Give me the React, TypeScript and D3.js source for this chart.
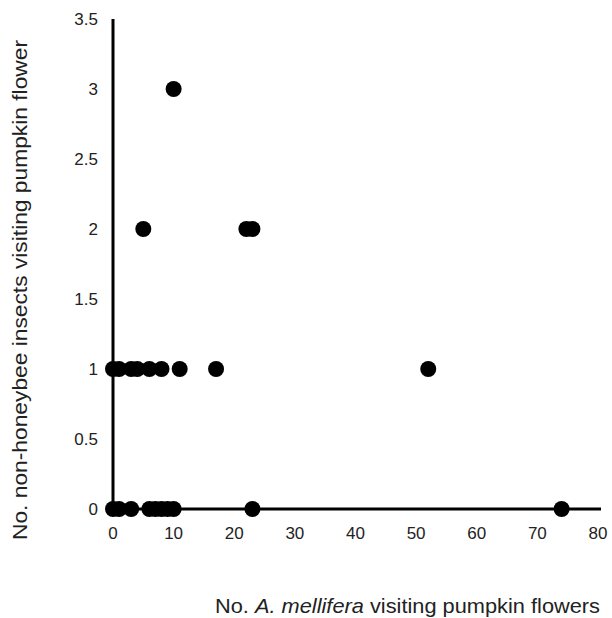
import * as d3 from 'd3'

// A. mellifera count (x) vs non-honeybee insects (y)
const beeCounts = [0, 1, 3, 6, 7, 8, 9, 10, 23, 74, 0, 1, 3, 4, 6, 8, 11, 17, 52, 5, 22, 23, 10]
const otherCounts = [0, 0, 0, 0, 0, 0, 0, 0, 0, 0, 1, 1, 1, 1, 1, 1, 1, 1, 1, 2, 2, 2, 3]

const xTicks = [0, 10, 20, 30, 40, 50, 60, 70, 80]
const yTicks = [0, 0.5, 1, 1.5, 2, 2.5, 3, 3.5]

const yTitle = 'No. non-honeybee insects visiting pumpkin flower'

export default function App() {
  const width = 612
  const height = 618
  const x = d3.scaleLinear().domain([0, 80]).range([113, 598])
  const y = d3.scaleLinear().domain([0, 3.5]).range([509, 19])
  const points = beeCounts.map((b, i) => ({ b, o: otherCounts[i] }))
  const font = 'Liberation Sans, Arial, sans-serif'

  return (
    <svg
      width={width}
      height={height}
      style={{ position: 'absolute', left: 0, top: 0, background: '#fff' }}
      fontFamily={font}
    >
      <defs>
        <filter id="soft" x="-50%" y="-50%" width="200%" height="200%">
          <feGaussianBlur stdDeviation="0.7" />
        </filter>
      </defs>

      {/* axes */}
      <line x1={x(0)} x2={x(0)} y1={y(3.5)} y2={y(0)} stroke="#000" strokeWidth={3} />
      <line x1={x(0)} x2={x(80) + 3} y1={y(0)} y2={y(0)} stroke="#000" strokeWidth={3} />

      {yTicks.map((t) => (
        <text key={t} x={98} y={y(t)} dy="0.35em" textAnchor="end" fontSize={17} fill="#222">
          {t}
        </text>
      ))}
      {xTicks.map((t) => (
        <text key={t} x={x(t)} y={539} textAnchor="middle" fontSize={17} fill="#222">
          {t}
        </text>
      ))}

      <g filter="url(#soft)">
        {points.map((p, i) => (
          <circle key={i} cx={x(p.b)} cy={y(p.o)} r={8} fill="#000" />
        ))}
      </g>

      <text
        transform={`translate(27,290) rotate(-90)`}
        textAnchor="middle"
        fontSize={21}
        textLength={500}
        lengthAdjust="spacingAndGlyphs"
        fill="#222"
      >
        {yTitle}
      </text>
      <text
        x={600}
        y={613}
        textAnchor="end"
        fontSize={21}
        textLength={385}
        lengthAdjust="spacingAndGlyphs"
        fill="#222"
      >
        No. <tspan fontStyle="italic">A. mellifera</tspan> visiting pumpkin flowers
      </text>
    </svg>
  )
}
